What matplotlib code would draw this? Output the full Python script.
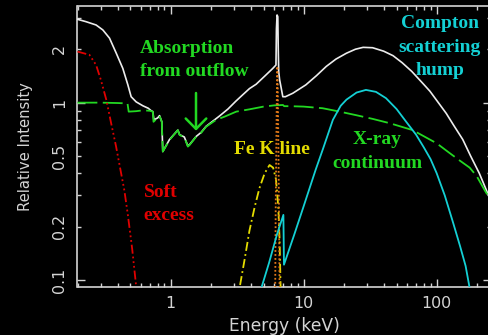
import matplotlib
matplotlib.use("Agg")
import matplotlib.pyplot as plt
from matplotlib.ticker import FixedLocator, FuncFormatter, NullFormatter
from matplotlib.patches import FancyArrowPatch

# ---- spectral components (energy in keV, relative intensity) ----
total_energy = [0.2, 0.232, 0.276, 0.31, 0.348, 0.391, 0.438, 0.478, 0.506, 0.552,
                0.62, 0.68, 0.716, 0.736, 0.75, 0.80, 0.827, 0.86, 0.875, 0.983,
                1.135, 1.17, 1.27, 1.35, 1.39, 1.56, 1.70, 1.85, 2.05, 2.33,
                2.7, 3.1, 3.5, 3.92, 4.4, 5.2, 5.87, 6.2, 6.25, 6.32,
                6.40, 6.45, 6.5, 6.6, 6.8, 6.98, 7.3, 8.3, 10.4, 12.5,
                14.8, 17.5, 21, 24.5, 28, 33, 40, 47, 55, 65,
                79, 89, 100, 118, 135, 157, 180, 209, 241, 256]
total_flux = [2.95, 2.86, 2.74, 2.57, 2.31, 1.90, 1.56, 1.26, 1.08, 1.01,
              0.96, 0.93, 0.90, 0.89, 0.80, 0.82, 0.845, 0.78, 0.53, 0.62,
              0.70, 0.66, 0.64, 0.57, 0.58, 0.645, 0.68, 0.735, 0.78, 0.84,
              0.92, 1.02, 1.11, 1.20, 1.27, 1.43, 1.56, 1.63, 2.6, 3.12,
              3.05, 2.0, 1.5, 1.35, 1.2, 1.08, 1.08, 1.13, 1.26, 1.42,
              1.60, 1.76, 1.90, 2.0, 2.05, 2.04, 1.95, 1.84, 1.68, 1.50,
              1.28, 1.16, 1.03, 0.87, 0.74, 0.62, 0.50, 0.40, 0.31, 0.28]

continuum_energy = [0.2, 0.3, 0.4, 0.475, 0.485, 0.55, 0.62, 0.70, 0.736, 0.745,
                    0.827, 0.86, 0.875, 0.983, 1.135, 1.17, 1.27, 1.35, 1.39, 1.56,
                    1.70, 1.85, 2.2, 2.55, 3.12, 3.92, 5.0, 6.0, 7.0, 7.15,
                    8.0, 10, 13.9, 18, 24.8, 33, 44.6, 66, 100, 125,
                    150, 177, 200, 230, 256]
continuum_flux = [1.0, 1.0, 0.995, 0.99, 0.89, 0.895, 0.905, 0.90, 0.89, 0.78,
                  0.84, 0.78, 0.53, 0.616, 0.70, 0.657, 0.638, 0.565, 0.577, 0.643,
                  0.677, 0.732, 0.80, 0.834, 0.89, 0.917, 0.95, 0.965, 0.97, 0.955,
                  0.955, 0.95, 0.93, 0.895, 0.85, 0.81, 0.765, 0.70, 0.59, 0.52,
                  0.47, 0.43, 0.385, 0.32, 0.28]

soft_energy = [0.2, 0.246, 0.276, 0.30, 0.329, 0.358, 0.39, 0.414, 0.45, 0.478,
               0.515, 0.552, 0.565]
soft_flux = [1.94, 1.86, 1.63, 1.34, 1.04, 0.765, 0.565, 0.445, 0.32, 0.233,
             0.15, 0.092, 0.08]

broad_fe_energy = [3.2, 3.3, 3.6, 3.92, 4.3, 4.66, 5.1, 5.55, 5.9, 6.2,
                   6.45, 6.6, 6.72, 6.76]
broad_fe_flux = [0.075, 0.09, 0.13, 0.19, 0.26, 0.33, 0.40, 0.445, 0.43, 0.37,
                 0.26, 0.17, 0.09, 0.075]

narrow_fe_energy = [6.08, 6.12, 6.17, 6.24, 6.30, 6.35, 6.40, 6.46, 6.53, 6.60, 6.64]
narrow_fe_flux = [0.07, 0.09, 0.25, 0.6, 1.2, 1.6, 1.2, 0.6, 0.25, 0.09, 0.07]

compton_energy = [4.7, 5.5, 6.3, 7.05, 7.12, 8.5, 10, 12.3, 14, 16.6,
                  19, 21, 25, 29.4, 35, 41.6, 50, 59, 70, 80,
                  90, 100, 115, 133, 150, 165, 177, 182]
compton_flux = [0.085, 0.125, 0.18, 0.233, 0.122, 0.18, 0.26, 0.417, 0.55, 0.80,
                0.96, 1.04, 1.14, 1.18, 1.15, 1.06, 0.92, 0.78, 0.66, 0.56,
                0.48, 0.40, 0.30, 0.21, 0.155, 0.12, 0.09, 0.08]

x_major = [1, 10, 100]
x_minor = [0.2, 0.3, 0.4, 0.5, 0.6, 0.7, 0.8, 0.9, 2, 3, 4, 5, 6, 7, 8, 9,
           20, 30, 40, 50, 60, 70, 80, 90, 200]
y_major = [0.1, 1]
y_minor = [0.2, 0.3, 0.4, 0.5, 0.6, 0.7, 0.8, 0.9, 2, 3]
y_minor_labelled = {0.2: "0.2", 0.5: "0.5", 2: "2"}

# ---- colours ----
AXIS = "#d4d4d4"
WHITE = "#ececec"
GREEN = "#22d822"
RED = "#e00000"
YELLOW = "#e4dc00"
ORANGE = "#e07818"
CYAN = "#14d0d4"

W, H = 489, 335
fig = plt.figure(figsize=(W / 100, H / 100), dpi=100, facecolor="black")
# the right-hand frame runs just past the canvas edge; only its ticks show
ax = fig.add_axes([77.5 / W, 1 - 286.7 / H, 413.5 / W, 281 / H], facecolor="black")
ax.set_xscale("log")
ax.set_yscale("log")
ax.set_xlim(0.2, 256)
ax.set_ylim(0.0917, 3.52)


def fig_xy(px, py):
    return px / W, 1 - py / H


# ---- curves ----
ax.plot(total_energy, total_flux, color=WHITE, lw=1.2, zorder=3)
ax.plot(continuum_energy, continuum_flux, color=GREEN, lw=1.3,
        ls=(0, (11, 3)), zorder=4)
ax.plot(soft_energy, soft_flux, color=RED, lw=1.3,
        ls=(0, (5, 1.6, 1, 1.6, 1, 1.6, 1, 1.6)), zorder=4)
ax.plot(broad_fe_energy, broad_fe_flux, color=YELLOW, lw=1.3,
        ls=(0, (5, 1.8, 1, 1.8)), zorder=4)
ax.plot(narrow_fe_energy, narrow_fe_flux, color=ORANGE, lw=1.3,
        ls=(0, (1, 1.2)), zorder=4)
ax.plot(compton_energy, compton_flux, color=CYAN, lw=1.3, zorder=4)

# ---- axes styling ----
for sp in ax.spines.values():
    sp.set_color(AXIS)
    sp.set_linewidth(1.2)

ax.xaxis.set_major_locator(FixedLocator(x_major))
ax.xaxis.set_minor_locator(FixedLocator(x_minor))
ax.xaxis.set_major_formatter(FuncFormatter(lambda v, p: f"{v:g}"))
ax.xaxis.set_minor_formatter(NullFormatter())
ax.yaxis.set_major_locator(FixedLocator(y_major))
ax.yaxis.set_minor_locator(FixedLocator(y_minor))
ax.yaxis.set_major_formatter(FuncFormatter(lambda v, p: f"{v:g}"))
ax.yaxis.set_minor_formatter(
    FuncFormatter(lambda v, p: next((s for k, s in y_minor_labelled.items()
                                     if abs(v - k) < 1e-6), "")))

ax.tick_params(which="both", direction="in", top=True, right=True,
               color=AXIS, width=1.0, labelcolor=AXIS, labelsize=11.4)
ax.tick_params(which="major", length=5.8)
ax.tick_params(which="minor", length=2.9)
ax.tick_params(axis="x", which="both", pad=6.5)
ax.tick_params(axis="y", which="both", pad=7.5, labelrotation=90)
for lab in ax.get_yticklabels(which="both"):
    lab.set_va("center")

ax.set_xlabel("Energy (keV)", color=AXIS, fontsize=12.3)
ax.set_ylabel("Relative Intensity", color=AXIS, fontsize=10.6)
ax.xaxis.set_label_coords(0.5, -0.108)
ax.yaxis.set_label_coords(-0.108, 0.5)

# ---- annotations ----
serif = dict(family="Liberation Serif", weight="bold", fontsize=14)


def label(px, py, s, color, ha):
    x, y = fig_xy(px, py)
    fig.text(x, y, s, color=color, ha=ha, va="baseline", **serif)


label(140, 53.3, "Absorption", GREEN, "left")
label(140, 76, "from outflow", GREEN, "left")
label(440, 28.3, "Compton", CYAN, "center")
label(440, 51.7, "scattering", CYAN, "center")
label(440, 75, "hump", CYAN, "center")
label(272, 154, "Fe K line", YELLOW, "center")
label(377.5, 144, "X-ray", GREEN, "center")
label(377.5, 167.7, "continuum", GREEN, "center")
label(143.5, 196.7, "Soft", RED, "left")
label(143.5, 220, "excess", RED, "left")

arrow = FancyArrowPatch(fig_xy(196, 93), fig_xy(196, 130.7),
                        transform=fig.transFigure,
                        arrowstyle="->,head_length=0.75,head_width=0.74",
                        mutation_scale=10, color=GREEN, lw=1.8,
                        shrinkA=0, shrinkB=0)
fig.patches.append(arrow)

fig.savefig("out.png", dpi=100, facecolor="black")
